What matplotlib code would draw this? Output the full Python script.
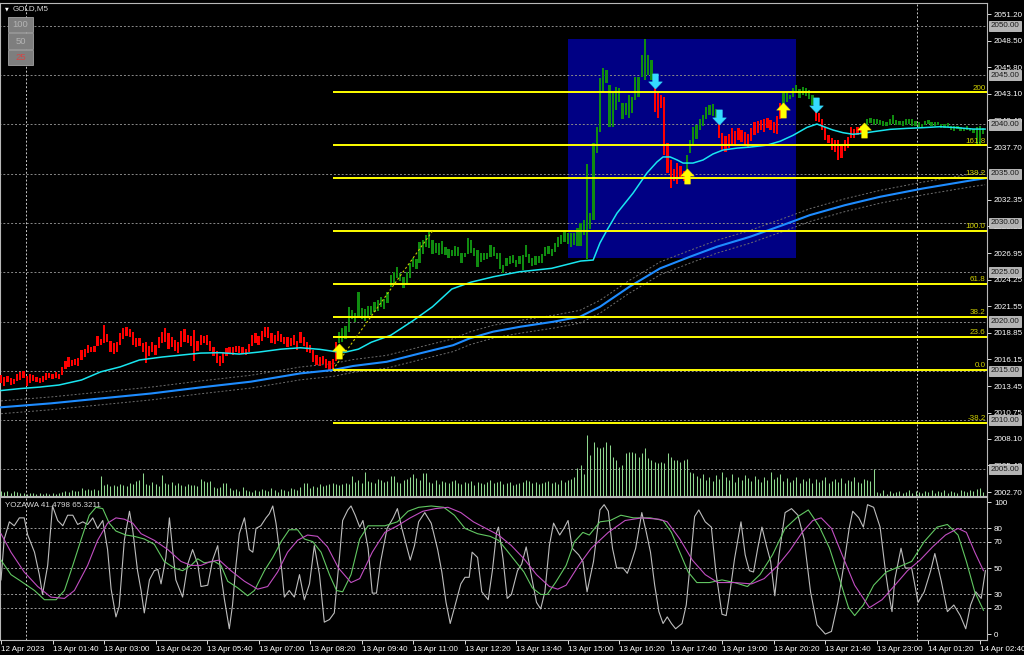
import matplotlib.pyplot as plt
import numpy as np
from matplotlib.patches import Rectangle
from matplotlib.path import Path

# ---------------- data ----------------
bar_low = [
    2013.8, 2013.5, 2013.9, 2013.6, 2013.7, 2014.0, 2014.1, 2014.3, 2013.5, 2013.8,
    2014.0, 2013.9, 2013.8, 2013.9, 2014.1, 2014.3, 2014.2, 2014.3, 2014.2, 2014.6,
    2015.2, 2015.4, 2015.5, 2015.6, 2015.5, 2016.1, 2016.4, 2016.8, 2016.9, 2016.9,
    2017.5, 2017.6, 2017.8, 2017.9, 2016.9, 2016.7, 2016.9, 2017.6, 2018.2, 2018.5,
    2018.4, 2017.6, 2017.4, 2017.5, 2016.9, 2015.8, 2016.5, 2016.9, 2016.6, 2017.3,
    2017.8, 2017.9, 2017.2, 2017.4, 2017.0, 2016.8, 2017.4, 2017.9, 2017.8, 2017.5,
    2016.0, 2017.0, 2017.6, 2017.8, 2017.6, 2017.0, 2016.5, 2015.8, 2015.5, 2015.8,
    2016.5, 2016.8, 2016.6, 2016.9, 2016.8, 2016.7, 2016.6, 2016.9, 2017.5, 2017.8,
    2017.6, 2018.0, 2018.4, 2018.3, 2017.8, 2017.7, 2018.0, 2017.9, 2017.7, 2017.4,
    2017.5, 2017.6, 2017.1, 2017.8, 2017.5, 2016.9, 2016.8, 2015.9, 2015.6, 2015.5,
    2015.7, 2015.3, 2015.1, 2015.1, 2016.0, 2017.8, 2017.9, 2018.2, 2018.9, 2020.3,
    2020.0, 2020.5, 2020.3, 2020.1, 2020.6, 2020.7, 2021.0, 2021.1, 2021.5, 2021.3,
    2021.9, 2023.5, 2023.9, 2024.4, 2024.1, 2023.4, 2023.9, 2024.4, 2025.5, 2025.3,
    2025.9, 2026.9, 2027.6, 2027.5, 2026.9, 2027.0, 2026.8, 2026.9, 2026.8, 2026.4,
    2026.6, 2026.7, 2026.6, 2025.9, 2026.5, 2026.9, 2027.0, 2026.6, 2025.5, 2026.0,
    2026.2, 2026.3, 2026.5, 2026.7, 2026.3, 2025.3, 2024.9, 2025.6, 2025.8, 2025.9,
    2025.5, 2025.8, 2025.2, 2026.5, 2025.9, 2025.6, 2025.7, 2025.9, 2025.9, 2026.6,
    2026.9, 2026.7, 2027.1, 2027.6, 2027.9, 2028.1, 2027.9, 2027.6, 2027.8, 2027.7,
    2027.7, 2028.8, 2026.3, 2029.4, 2030.3, 2037.1, 2039.2, 2043.3, 2044.2, 2039.7,
    2039.7, 2041.5, 2042.3, 2040.6, 2041.0, 2040.7, 2041.2, 2042.5, 2042.8, 2044.8,
    2044.5, 2045.0, 2044.5, 2041.3, 2040.7, 2041.7, 2036.9, 2035.1, 2033.5, 2034.3,
    2034.0, 2034.5, 2034.3, 2034.7, 2037.1, 2037.9, 2038.5, 2039.4, 2039.8, 2040.6,
    2041.0, 2040.9, 2040.5, 2038.6, 2037.4, 2037.2, 2037.6, 2037.9, 2037.9, 2038.4,
    2038.2, 2037.9, 2037.6, 2038.3, 2038.9, 2039.1, 2039.4, 2039.2, 2039.6, 2039.4,
    2039.1, 2039.0, 2040.6, 2041.9, 2042.3, 2042.6, 2042.8, 2043.2, 2042.7, 2043.0,
    2042.9, 2042.6, 2042.0, 2040.3, 2040.2, 2039.4, 2038.4, 2038.1, 2037.4, 2037.2,
    2036.4, 2036.6, 2037.3, 2037.6, 2038.6, 2038.6, 2038.9, 2039.0, 2039.2, 2039.9,
    2040.1, 2039.9, 2040.0, 2039.9, 2039.8, 2039.8, 2039.9, 2040.0, 2039.9, 2039.9,
    2039.8, 2039.9, 2040.0, 2039.8, 2039.8, 2039.7, 2039.7, 2039.9, 2040.0, 2039.8,
    2039.8, 2039.9, 2039.6, 2039.6, 2039.7, 2039.4, 2039.3, 2039.5, 2039.3, 2039.3,
    2039.4, 2039.3, 2039.1, 2038.0, 2037.8, 2039.0,
]
bar_high = [
    2014.6, 2014.4, 2014.5, 2014.3, 2014.2, 2014.7, 2014.9, 2015.0, 2014.5, 2014.7,
    2014.6, 2014.4, 2014.3, 2014.5, 2014.8, 2014.8, 2014.7, 2014.9, 2014.7, 2015.4,
    2016.0, 2016.4, 2016.1, 2016.2, 2016.3, 2017.1, 2017.2, 2017.6, 2017.4, 2017.5,
    2018.5, 2018.2, 2019.7, 2018.7, 2018.0, 2017.8, 2017.9, 2018.8, 2019.3, 2019.4,
    2019.2, 2018.9, 2018.3, 2018.3, 2017.8, 2017.9, 2017.5, 2017.9, 2017.6, 2018.4,
    2018.9, 2019.3, 2018.8, 2018.4, 2018.1, 2017.9, 2019.0, 2019.2, 2018.6, 2018.5,
    2019.1, 2018.0, 2018.6, 2018.5, 2018.6, 2018.0, 2017.4, 2017.0, 2016.5, 2016.9,
    2017.3, 2017.4, 2017.4, 2017.5, 2017.5, 2017.4, 2017.2, 2017.7, 2018.6, 2018.8,
    2018.5, 2019.0, 2019.4, 2019.4, 2018.8, 2018.6, 2019.0, 2018.7, 2018.4, 2018.4,
    2018.3, 2018.6, 2018.0, 2018.9, 2018.4, 2017.9, 2017.6, 2017.1, 2016.6, 2016.4,
    2016.5, 2016.2, 2016.0, 2016.2, 2017.9, 2018.9, 2019.3, 2019.5, 2021.5, 2021.2,
    2020.9, 2023.0, 2021.4, 2021.3, 2021.6, 2021.6, 2022.0, 2022.2, 2022.5, 2022.3,
    2023.0, 2024.7, 2025.0, 2025.5, 2024.9, 2024.5, 2025.0, 2025.9, 2026.4, 2026.3,
    2028.1, 2028.3, 2028.8, 2029.1, 2028.3, 2028.0, 2028.0, 2028.2, 2027.6, 2027.4,
    2027.3, 2027.7, 2027.6, 2027.0, 2027.0, 2028.5, 2028.3, 2027.5, 2027.3, 2027.0,
    2027.0, 2027.0, 2027.8, 2027.6, 2027.0, 2027.0, 2025.7, 2026.4, 2026.7, 2026.8,
    2026.2, 2026.7, 2026.8, 2027.8, 2026.9, 2026.4, 2026.6, 2026.6, 2026.9, 2027.6,
    2027.7, 2027.4, 2028.0, 2028.6, 2028.8, 2029.3, 2029.0, 2029.0, 2029.0, 2029.5,
    2030.0, 2030.3, 2036.0, 2031.0, 2038.1, 2039.7, 2044.7, 2045.7, 2045.5, 2044.0,
    2043.3, 2043.8, 2043.7, 2042.2, 2042.2, 2043.0, 2042.8, 2044.8, 2044.8, 2047.0,
    2048.7, 2047.0, 2046.5, 2044.0, 2043.2, 2043.0, 2042.8, 2038.1, 2036.4, 2035.5,
    2036.1, 2035.8, 2035.3, 2036.9, 2038.4, 2039.7, 2039.9, 2040.6, 2041.0, 2041.8,
    2042.0, 2042.1, 2041.6, 2040.2, 2039.1, 2038.8, 2039.0, 2039.6, 2039.3, 2039.6,
    2039.4, 2039.2, 2039.0, 2039.6, 2040.2, 2040.3, 2040.4, 2040.6, 2040.7, 2040.4,
    2040.2, 2040.9, 2042.2, 2043.2, 2043.3, 2043.0, 2043.7, 2044.0, 2043.6, 2043.8,
    2043.7, 2043.5, 2043.0, 2041.3, 2041.2, 2040.6, 2039.7, 2038.9, 2038.6, 2038.4,
    2038.4, 2037.9, 2038.4, 2038.7, 2039.7, 2039.5, 2039.7, 2039.8, 2039.9, 2040.6,
    2040.7, 2040.5, 2040.6, 2040.4, 2040.3, 2040.2, 2040.6, 2041.0, 2040.4, 2040.3,
    2040.3, 2040.5, 2040.6, 2040.5, 2040.3, 2040.2, 2040.0, 2040.3, 2040.4, 2040.2,
    2040.2, 2040.2, 2040.0, 2040.0, 2040.1, 2039.8, 2039.8, 2039.8, 2039.7, 2039.6,
    2039.8, 2039.6, 2039.5, 2039.7, 2039.8, 2039.6,
]
tick_volume = [
    5, 4, 5, 3, 5, 4, 3, 3, 2, 3, 3, 2, 3, 2, 3, 2, 3, 2, 3, 4,
    5, 4, 6, 5, 5, 8, 6, 7, 6, 7, 6, 20, 11, 12, 10, 11, 10, 12, 11, 10,
    13, 12, 15, 16, 23, 12, 11, 14, 12, 10, 21, 13, 12, 14, 11, 13, 11, 10, 12, 11,
    11, 10, 17, 15, 14, 15, 9, 8, 9, 13, 13, 8, 6, 7, 5, 9, 6, 5, 4, 6,
    5, 7, 6, 5, 8, 6, 4, 7, 6, 5, 8, 7, 6, 9, 13, 13, 8, 10, 9, 12,
    10, 11, 12, 13, 12, 11, 12, 13, 12, 20, 14, 16, 13, 24, 15, 14, 13, 17, 16, 14,
    15, 20, 20, 14, 13, 16, 17, 19, 22, 18, 16, 23, 23, 14, 13, 16, 12, 15, 14, 13,
    15, 16, 13, 12, 14, 13, 15, 11, 14, 13, 12, 14, 16, 13, 14, 15, 12, 13, 14, 11,
    12, 13, 14, 16, 15, 13, 14, 12, 13, 14, 15, 13, 14, 12, 16, 14, 16, 17, 19, 28,
    31, 22, 61, 41, 54, 49, 48, 49, 54, 51, 39, 36, 29, 31, 43, 44, 44, 43, 39, 43,
    48, 38, 36, 34, 33, 34, 33, 43, 39, 36, 36, 34, 36, 37, 24, 23, 20, 18, 22, 16,
    19, 15, 21, 17, 24, 19, 16, 22, 14, 19, 16, 21, 18, 15, 20, 17, 14, 19, 16, 24,
    17, 19, 22, 15, 18, 14, 16, 19, 13, 17, 15, 18, 13, 17, 14, 16, 19, 13, 15, 17,
    14, 18, 13, 16, 15, 19, 14, 13, 17, 16, 15, 27, 4, 3, 6, 2, 5, 3, 4, 5,
    3, 4, 6, 3, 5, 4, 3, 5, 4, 6, 3, 5, 4, 6, 3, 5, 4, 3, 6, 5,
    4, 6, 5, 7, 8, 4,
]

# signal arrows (bar index, price)
buy_bars = [105, 213, 243, 268]
buy_prices = [2017.0, 2034.8, 2041.5, 2039.4]
sell_bars = [203, 223, 253]
sell_prices = [2044.4, 2040.8, 2042.0]

# moving averages (bar index, price)
fast_ma_bars = [0, 6, 12, 18, 25, 31, 37, 43, 50, 56, 62, 68, 74, 80, 87, 93, 99, 104,
                107, 111, 115, 121, 128, 134, 140, 146, 153, 161, 171, 180, 183.9, 186,
                188.2, 191.3, 196.3, 200.6, 203.7, 205.6, 207.8, 210, 211.8, 214.9, 218,
                221.1, 224.2, 228.6, 232.6, 237.9, 242, 246, 250.3, 253.4, 255.3, 258.4,
                261.5, 264.6, 267.7, 270.8, 276.1, 281.4, 286.3, 291.6, 296.9, 301.9, 305.6]
fast_ma = [2013.0, 2013.2, 2013.35, 2013.56, 2014.07, 2014.9, 2015.4, 2016.1, 2016.4, 2016.6,
           2016.8, 2016.84, 2016.7, 2016.9, 2017.2, 2017.34, 2017.18, 2016.94, 2016.9,
           2017.2, 2017.9, 2018.6, 2020.1, 2021.5, 2023.3, 2024.0, 2024.55, 2025.05, 2025.4,
           2026.14, 2026.24, 2027.97, 2029.28, 2031.0, 2033.04, 2035.07, 2036.19, 2036.7,
           2036.7, 2036.39, 2036.08, 2036.08, 2036.39, 2037.0, 2037.4, 2037.6, 2037.7,
           2037.9, 2038.3, 2038.9, 2039.7, 2040.04, 2039.8, 2039.43, 2039.16, 2039.0,
           2039.1, 2039.26, 2039.5, 2039.6, 2039.67, 2039.77, 2039.67, 2039.53, 2039.53]
slow_ma_bars = [0, 15.5, 31, 46.6, 62, 77.6, 93, 103, 109.3, 119.8, 130.1, 140.4, 145.6,
                152.8, 161.2, 171.5, 179.8, 186, 195, 204.7, 214, 222.4, 232.6, 242.9,
                251.2, 262, 273, 286.3, 302, 305.6]
slow_ma = [2011.3, 2011.7, 2012.2, 2012.7, 2013.32, 2013.9, 2014.74, 2015.08, 2015.49,
           2015.92, 2016.77, 2017.6, 2018.3, 2018.97, 2019.47, 2019.98, 2020.49, 2021.5,
           2023.5, 2025.4, 2026.58, 2027.6, 2028.6, 2029.8, 2030.8, 2031.8, 2032.66,
           2033.5, 2034.36, 2034.53]
envelope_width = 0.65

# fibonacci retracement
fib_anchor_bars = [103, 134]
fib_anchor_prices = [2015.10, 2029.18]
fib_levels = [-38.2, 0.0, 23.6, 38.2, 61.8, 100.0, 138.2, 161.8, 200.0]
fib_labels = ["-38.2", "0.0", "23.6", "38.2", "61.8", "100.0", "138.2", "161.8", "200"]

# highlighted rectangle
box_bars = [176, 247]
box_prices = [2026.4, 2048.7]

# oscillator (bar index, value)
osc_fast_bars = [0, 1, 2.6, 4.1, 5.7, 7.2, 8.3, 10.4, 11.9, 12.9, 14.5, 16, 17.6, 19.2, 20.7,
                 22.3, 23.8, 25.4, 26.9, 28.5, 30, 31.6, 33.1, 34.2, 35.7, 36.7, 38.3, 39.9,
                 40.9, 42.4, 43.5, 44.5, 46.1, 47.6, 48.7, 49.7, 51.2, 52.3, 53.3, 54.3, 56.4,
                 58, 59.5, 61.1, 62.1, 64.2, 65.7, 67.3, 68.3, 69.4, 70.9, 71.9, 73, 74, 75.6,
                 77.1, 78.2, 79.2, 80.7, 82.3, 83.3, 84.4, 85.4, 87, 88, 89.5, 91.1, 92.7,
                 94.2, 95.8, 97.3, 98.9, 100.4, 102, 103.5, 105.1, 106.1, 107.7, 108.7, 110,
                 111.4, 112.4, 114, 115.3, 116.6, 117.9, 119.9, 121.8, 123.1, 124.5, 127.1,
                 128.4, 129.7, 131.6, 133.6, 135.6, 136.9, 138.2, 139.5, 141.5, 142.8, 144.1,
                 145.4, 146.3, 148, 149.3, 151.3, 152.6, 153.9, 154.5, 155.9, 157.2, 158.5,
                 160.4, 161.7, 163.1, 164.8, 166.3, 167.6, 168.9, 170.3, 171.6, 173.5, 174.8,
                 176.1, 177.4, 179.4, 180.7, 182, 184, 186, 187.3, 188.6, 189.9, 191.2, 193.2,
                 194.5, 195.8, 197.1, 199, 200.4, 201.7, 203, 204.3, 205.6, 206.9, 208.2,
                 209.5, 211.5, 212.8, 214.1, 215.4, 216.7, 218.7, 220.6, 222, 223.9, 225.2,
                 226.5, 227.8, 229.8, 231.1, 232.4, 233.7, 235, 236.3, 237.7, 239, 240.3,
                 241.6, 243.5, 245.5, 247.5, 249.4, 251.4, 253.4, 256, 257.9, 259.9, 261.9,
                 263.4, 264.5, 266.4, 267.8, 269.1, 271, 273, 274.7, 275.6, 276.7, 277.6,
                 279.5, 280.8, 282.8, 284.8, 286.7, 288.7, 290, 292, 293.9, 295.9, 297.9,
                 299.6, 301.1, 302.7, 304.4, 305.7]
osc_fast = [41, 72, 85, 82, 88, 88, 75, 62, 45, 30, 52, 97, 86, 82, 90, 90, 83, 85, 83, 88,
            80, 86, 64, 34, 13, 21, 71, 93, 79, 48, 33, 16, 41, 48, 49, 38, 58, 88, 64, 41,
            28, 53, 64, 53, 36, 37, 56, 67, 45, 26, 4, 22, 53, 76, 88, 64, 62, 80, 82, 88,
            91, 97, 84, 53, 28, 33, 28, 45, 26, 38, 67, 45, 9, 11, 16, 58, 86, 94, 97, 90,
            81, 86, 65, 31, 31, 55, 80, 88, 95, 80, 56, 67, 85, 92, 84, 64, 47, 24, 8, 26,
            38, 43, 43, 62, 58, 32, 26, 48, 77, 81, 57, 27, 30, 48, 53, 66, 43, 24, 19, 32,
            67, 84, 75, 80, 86, 65, 60, 55, 32, 55, 94, 98, 93, 65, 50, 50, 46, 55, 65, 92,
            77, 62, 37, 17, 8, 13, 8, 4, 8, 22, 55, 89, 94, 85, 81, 47, 15, 14, 34, 57, 85,
            60, 48, 47, 65, 81, 67, 55, 29, 60, 92, 95, 90, 72, 32, 7, 0, 2, 24, 55, 80, 93,
            88, 81, 98, 96, 81, 47, 32, 17, 42, 65, 50, 50, 24, 32, 48, 61, 40, 17, 22, 14,
            4, 22, 32, 27, 48]
osc_mid_bars = [0, 3.1, 6.2, 10.4, 13.5, 17.1, 19.7, 22.3, 24.8, 27.4, 29.5, 31.6, 33.6, 35.7,
                38.8, 41.4, 44.5, 47.6, 50.7, 53.8, 56.4, 59, 61.1, 63.1, 66.3, 68.3, 70.4,
                73.5, 76.6, 78.7, 81.8, 84.4, 87, 89.5, 92.1, 94.2, 96.8, 99.4, 102, 104.2,
                106.1, 108.7, 111.4, 114, 119.2, 123.1, 126.4, 129.7, 133.6, 137.5, 140.8,
                144.1, 148, 151.9, 154.5, 157.2, 159.8, 162.4, 165, 167.6, 169.6, 172.2,
                175.5, 178.1, 180.7, 182.7, 186, 189.2, 192.5, 196.4, 201.7, 205.6, 208.2,
                210.8, 213.4, 216.1, 220, 223.9, 227.8, 231.8, 235.7, 239.6, 243.5, 247.5,
                250.7, 254, 257.3, 260.6, 263.2, 265.1, 267.8, 271, 274.9, 278.9, 282.8,
                286.7, 290.7, 293.9, 297.2, 299.8, 302.4, 305.1]
osc_mid = [56, 45, 40, 33, 26, 26, 33, 52, 71, 90, 96, 95, 84, 78, 75, 74, 72, 68, 55, 50,
           48, 52, 57, 54, 55, 52, 40, 35, 29, 33, 48, 58, 70, 79, 79, 72, 70, 62, 45, 33,
           32, 45, 72, 82, 82, 85, 93, 96, 97, 96, 90, 80, 76, 74, 71, 63, 55, 47, 35, 30,
           30, 39, 52, 70, 77, 75, 85, 86, 90, 88, 88, 86, 77, 62, 47, 39, 39, 41, 39, 36,
           45, 60, 80, 89, 94, 82, 65, 40, 20, 14, 22, 37, 47, 51, 55, 70, 81, 83, 75, 55,
           32, 18]
osc_slow_bars = [0, 3.1, 7.2, 11.4, 15.5, 19.7, 22.8, 26.9, 30, 33.1, 35.7, 38.3, 40.9, 43.5,
                 47.6, 51.8, 55.9, 59, 62.1, 65.2, 67.8, 71.4, 75.6, 79.7, 82.8, 85.9, 89,
                 92.1, 95.2, 98.3, 101.4, 104.8, 108.7, 111.4, 115.3, 119.2, 123.1, 127.1,
                 131, 134.9, 138.8, 142.8, 146.7, 150.6, 154.5, 158.5, 162.4, 166.3, 170.3,
                 172.9, 175.5, 179.4, 183.3, 188.6, 193.8, 199, 204.3, 206.9, 210.8, 214.7,
                 218.7, 222.6, 227.8, 233.1, 237, 240.9, 244.9, 248.8, 252.1, 254.7, 257.9,
                 261.2, 265.1, 269.7, 273.6, 277.6, 281.5, 285.4, 289.3, 293.3, 297.2, 299.8,
                 302.4, 305.1]
osc_slow = [76, 62, 47, 36, 28, 27, 33, 52, 71, 84, 88, 87, 84, 76, 71, 64, 55, 52, 52, 55,
            56, 48, 40, 34, 36, 47, 62, 71, 75, 74, 66, 50, 39, 42, 62, 77, 82, 88, 93, 95,
            96, 92, 85, 80, 75, 67, 57, 45, 36, 34, 37, 52, 65, 77, 86, 88, 87, 85, 72, 56,
            45, 39, 39, 38, 42, 51, 63, 77, 86, 88, 80, 60, 37, 20, 26, 37, 48, 56, 66, 75,
            80, 77, 62, 48]
osc_levels = [20, 30, 50, 70, 80]

price_ticks = [2002.70, 2005.40, 2008.10, 2010.75, 2013.45, 2016.15, 2018.85, 2021.55,
               2024.25, 2026.95, 2029.65, 2032.35, 2037.70, 2040.40, 2043.10,
               2045.80, 2048.50, 2051.20]
round_prices = [2005, 2010, 2015, 2020, 2025, 2030, 2035, 2040, 2045, 2050]
separator_bars = [7.8, 284.5]
time_tick_bars = list(range(0, 305, 16))
time_labels = ["12 Apr 2023", "13 Apr 01:40", "13 Apr 03:00", "13 Apr 04:20", "13 Apr 05:40",
               "13 Apr 07:00", "13 Apr 08:20", "13 Apr 09:40", "13 Apr 11:00", "13 Apr 12:20",
               "13 Apr 13:40", "13 Apr 15:00", "13 Apr 16:20", "13 Apr 17:40", "13 Apr 19:00",
               "13 Apr 20:20", "13 Apr 21:40", "13 Apr 23:00", "14 Apr 01:20", "14 Apr 02:40"]
symbol_title = "GOLD,M5"
osc_title = "YOZAWA 41.4798 65.3211"
zoom_buttons = ["100", "50", "25"]

# ---------------- style ----------------
plt.rcParams["font.family"] = ["Liberation Sans", "DejaVu Sans"]
FS = 5.8
W, H = 1024, 655
GRID = "#8a8a8a"
FRAME = "#b8b8b8"
BULL = "#108c10"
BEAR = "#ff0000"


def fig_rect(x0, y0, x1, y1):
    # pixel box (top-left origin) -> figure fraction rect
    return [x0 / W, 1 - y1 / H, (x1 - x0) / W, (y1 - y0) / H]


def arrow_path(up=True):
    s = 1 if up else -1
    verts = [(0, s), (0.9, 0.05 * s), (0.38, 0.05 * s), (0.38, -s), (-0.38, -s),
             (-0.38, 0.05 * s), (-0.9, 0.05 * s), (0, s)]
    codes = [Path.MOVETO] + [Path.LINETO] * 6 + [Path.CLOSEPOLY]
    return Path(verts, codes)


def style_frame(ax):
    for sp in ax.spines.values():
        sp.set_color(FRAME)
        sp.set_linewidth(0.8)
    ax.set_facecolor("black")


fig = plt.figure(figsize=(W / 100, H / 100), dpi=100, facecolor="black")
ax = fig.add_axes(fig_rect(0, 3, 987, 496))
osc = fig.add_axes(fig_rect(0, 497, 987, 640), sharex=ax)
vol = fig.add_axes(fig_rect(0, 3, 987, 496), sharex=ax)
style_frame(ax)
style_frame(osc)

idx = np.arange(len(bar_low))
ax.set_xlim(-0.31, 306.2)
ax.set_ylim(2002.30, 2052.32)
osc.set_ylim(-4.5, 103.8)

# ---- main window ----
ax.add_patch(Rectangle((box_bars[0], box_prices[0]), box_bars[1] - box_bars[0],
                       box_prices[1] - box_prices[0], facecolor="#000084", edgecolor="none",
                       zorder=0.5))
ax.hlines(round_prices, -1, 310, colors=GRID, linestyles=(0, (2, 2)), lw=0.7, zorder=1)
for b in separator_bars:
    ax.axvline(b, color="#c8c8c8", ls=(0, (2, 2)), lw=0.7, zorder=1)
    osc.axvline(b, color="#c8c8c8", ls=(0, (2, 2)), lw=0.7, zorder=1)

# moving averages with envelope
slow = np.array(slow_ma)
ax.plot(slow_ma_bars, slow + envelope_width, color="#6e6e6e", ls=(0, (2, 2)), lw=0.7, zorder=2)
ax.plot(slow_ma_bars, slow - envelope_width, color="#6e6e6e", ls=(0, (2, 2)), lw=0.7, zorder=2)

# bar colors follow the last signal
buy_set, sell_set = set(buy_bars), set(sell_bars)
bullish = False
colors = []
for i in idx:
    if i in buy_set:
        bullish = True
    elif i in sell_set:
        bullish = False
    colors.append(BULL if bullish else BEAR)

lo = np.array(bar_low)
hi = np.array(bar_high)
ax.bar(idx, hi - lo, bottom=lo, width=0.7, color=colors, linewidth=0, zorder=3)

ax.plot(slow_ma_bars, slow_ma, color="#1e8cff", lw=1.5, zorder=3.5)
ax.plot(fast_ma_bars, fast_ma, color="#19e6f0", lw=1.1, zorder=3.5)

# fibonacci
fib_lo, fib_hi = fib_anchor_prices
fib_prices = [fib_lo + (fib_hi - fib_lo) * lv / 100 for lv in fib_levels]
ax.hlines(fib_prices, fib_anchor_bars[0], 306.2, colors="#ffff00", lw=1.4, zorder=3.6)
ax.plot(fib_anchor_bars, fib_anchor_prices, color="#c8c800", ls=(0, (2, 2)), lw=0.8, zorder=3.6)
for p, lab in zip(fib_prices, fib_labels):
    ax.text(305.8, p + 0.08, lab, color="#d2d200", fontsize=FS, ha="right",
            va="bottom", zorder=4)

# signal arrows
ax.scatter(buy_bars, buy_prices, marker=arrow_path(True), s=120, color="#ffff00",
           edgecolors="#ffe000", linewidths=0.3, zorder=5)
ax.scatter(sell_bars, sell_prices, marker=arrow_path(False), s=120, color="#35dcff",
           edgecolors="#35dcff", linewidths=0.3, zorder=5)

# volume histogram at the bottom of the main window
vol.set_ylim(0, 493)
vol.vlines(idx, 0, tick_volume, colors="#8fd88f", lw=0.75)
vol.set_axis_off()

# right price scale
ax.yaxis.tick_right()
ax.set_yticks(price_ticks)
ax.set_yticklabels([f"{p:.2f}" for p in price_ticks])
ax.tick_params(axis="y", colors="white", labelsize=FS, length=3, width=0.6, pad=2)
ax.tick_params(axis="x", bottom=False, labelbottom=False)
for p in round_prices:
    ax.text(1.004, p, f"{p:.2f}", transform=ax.get_yaxis_transform(), ha="left",
            va="center", fontsize=FS, color="#1a1a1a", clip_on=False, zorder=6,
            bbox=dict(boxstyle="square,pad=0.2", fc="#b4b4b4", ec="#dcdcdc", lw=0.5))

# ---- oscillator window ----
osc.hlines(osc_levels, -1, 310, colors="#9a9a9a", linestyles=(0, (2, 2)), lw=0.7, zorder=1)
osc.plot(osc_fast_bars, osc_fast, color="#bdbdbd", lw=0.8, zorder=2)
osc.plot(osc_mid_bars, osc_mid, color="#62c862", lw=0.8, zorder=3)
osc.plot(osc_slow_bars, osc_slow, color="#c24ec2", lw=0.8, zorder=3)
osc.yaxis.tick_right()
osc.set_yticks([0, 20, 30, 50, 70, 80, 100])
osc.tick_params(axis="y", colors="white", labelsize=FS, length=3, width=0.6, pad=2)
osc.set_xticks(time_tick_bars)
osc.set_xticklabels(time_labels, ha="left")
osc.tick_params(axis="x", colors="white", labelsize=FS, length=3, width=0.6, pad=1.5)
osc.text(0.005, 0.965, osc_title, transform=osc.transAxes, color="#d8d8d8", fontsize=FS,
         ha="left", va="top")

# ---- window header ----
fig.text(5 / W, 1 - 8.5 / H, "\u25bc", color="white", fontsize=3.5, ha="left", va="center",
         family="DejaVu Sans")
fig.text(13 / W, 1 - 8.5 / H, symbol_title, color="#dcdcdc", fontsize=FS, ha="left",
         va="center")
for k, lab in enumerate(zoom_buttons):
    y0 = 17 + k * 16.5
    fig.patches.append(Rectangle((8 / W, 1 - (y0 + 15) / H), 25 / W, 15 / H,
                                 transform=fig.transFigure, facecolor="#7e7e7e",
                                 edgecolor="#a4a4a4", lw=0.6))
    fig.text(20.5 / W, 1 - (y0 + 7.5) / H, lab, color="#d04848" if lab == "25" else "#b4b4b4",
             fontsize=FS + 1.0, ha="center", va="center")

fig.savefig("out.png", dpi=100, facecolor="black")
